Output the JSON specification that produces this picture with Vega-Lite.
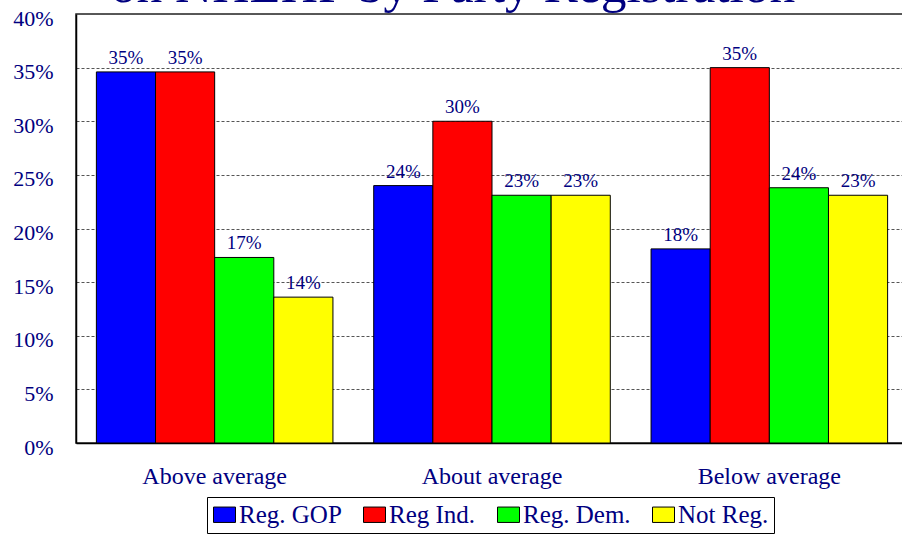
{
  "$schema": "https://vega.github.io/schema/vega-lite/v6.json",
  "width": 832,
  "height": 429,
  "autosize": {"type": "none"},
  "padding": {"left": 76, "top": 14, "right": 0, "bottom": 93},
  "background": "white",
  "config": {
    "font": "Liberation Serif",
    "view": {"stroke": "#222", "strokeWidth": 1.5}
  },
  "title": {
    "text": "on NHLHP by Party Registration",
    "font": "Liberation Serif",
    "fontSize": 51.5,
    "fontWeight": "normal",
    "color": "#000080",
    "anchor": "middle",
    "dx": -39,
    "baseline": "alphabetic",
    "offset": -46
  },
  "data": {
    "values": [
      {"rating": "Above average", "party": "Reg. GOP", "pct": 0.346},
      {"rating": "Above average", "party": "Reg Ind.", "pct": 0.346},
      {"rating": "Above average", "party": "Reg. Dem.", "pct": 0.173},
      {"rating": "Above average", "party": "Not Reg.", "pct": 0.136},
      {"rating": "About average", "party": "Reg. GOP", "pct": 0.240},
      {"rating": "About average", "party": "Reg Ind.", "pct": 0.300},
      {"rating": "About average", "party": "Reg. Dem.", "pct": 0.231},
      {"rating": "About average", "party": "Not Reg.", "pct": 0.231},
      {"rating": "Below average", "party": "Reg. GOP", "pct": 0.181},
      {"rating": "Below average", "party": "Reg Ind.", "pct": 0.350},
      {"rating": "Below average", "party": "Reg. Dem.", "pct": 0.238},
      {"rating": "Below average", "party": "Not Reg.", "pct": 0.231}
    ]
  },
  "encoding": {
    "x": {
      "field": "rating",
      "type": "nominal",
      "sort": ["Above average", "About average", "Below average"],
      "scale": {"paddingInner": 0.147, "paddingOuter": 0.0735},
      "axis": {
        "title": null,
        "labelAngle": 0,
        "labelFont": "Liberation Serif",
        "labelFontSize": 24,
        "labelColor": "#000080",
        "labelPadding": 21,
        "ticks": false,
        "tickSize": 0,
        "domainColor": "#000",
        "domainWidth": 1.5
      }
    },
    "xOffset": {
      "field": "party",
      "type": "nominal",
      "sort": ["Reg. GOP", "Reg Ind.", "Reg. Dem.", "Not Reg."],
      "scale": {"paddingInner": 0, "paddingOuter": 0}
    },
    "y": {
      "field": "pct",
      "type": "quantitative",
      "scale": {"domain": [0, 0.4], "nice": false},
      "axis": {
        "title": null,
        "values": [0, 0.05, 0.1, 0.15, 0.2, 0.25, 0.3, 0.35, 0.4],
        "format": ".0%",
        "labelFont": "Liberation Serif",
        "labelFontSize": 22,
        "labelColor": "#000080",
        "labelPadding": 23,
        "labelOffset": 4,
        "ticks": false,
        "tickSize": 0,
        "domainColor": "#000",
        "domainWidth": 1.5,
        "grid": true,
        "gridColor": "#555",
        "gridDash": [3, 2],
        "gridWidth": 1
      }
    }
  },
  "layer": [
    {
      "mark": {"type": "bar", "stroke": "#000", "strokeWidth": 1},
      "encoding": {
        "color": {
          "field": "party",
          "type": "nominal",
          "sort": ["Reg. GOP", "Reg Ind.", "Reg. Dem.", "Not Reg."],
          "scale": {
            "domain": ["Reg. GOP", "Reg Ind.", "Reg. Dem.", "Not Reg."],
            "range": ["#0000FF", "#FF0000", "#00FF00", "#FFFF00"]
          },
          "legend": {
            "title": null,
            "orient": "none",
            "legendX": 131,
            "legendY": 483,
            "direction": "horizontal",
            "columns": 4,
            "strokeColor": "#000",
            "padding": 5,
            "symbolType": "M-1,-0.7H1V0.7H-1Z",
            "symbolSize": 484,
            "symbolStrokeColor": "#000",
            "symbolStrokeWidth": 1,
            "symbolOpacity": 1,
            "labelFont": "Liberation Serif",
            "labelFontSize": 25,
            "labelColor": "#000080",
            "labelOffset": 2,
            "columnPadding": 19
          }
        }
      }
    },
    {
      "mark": {
        "type": "text",
        "dy": -8,
        "baseline": "alphabetic",
        "font": "Liberation Serif",
        "fontSize": 19,
        "color": "#000080"
      },
      "encoding": {
        "text": {"field": "pct", "type": "quantitative", "format": ".0%"}
      }
    }
  ]
}
